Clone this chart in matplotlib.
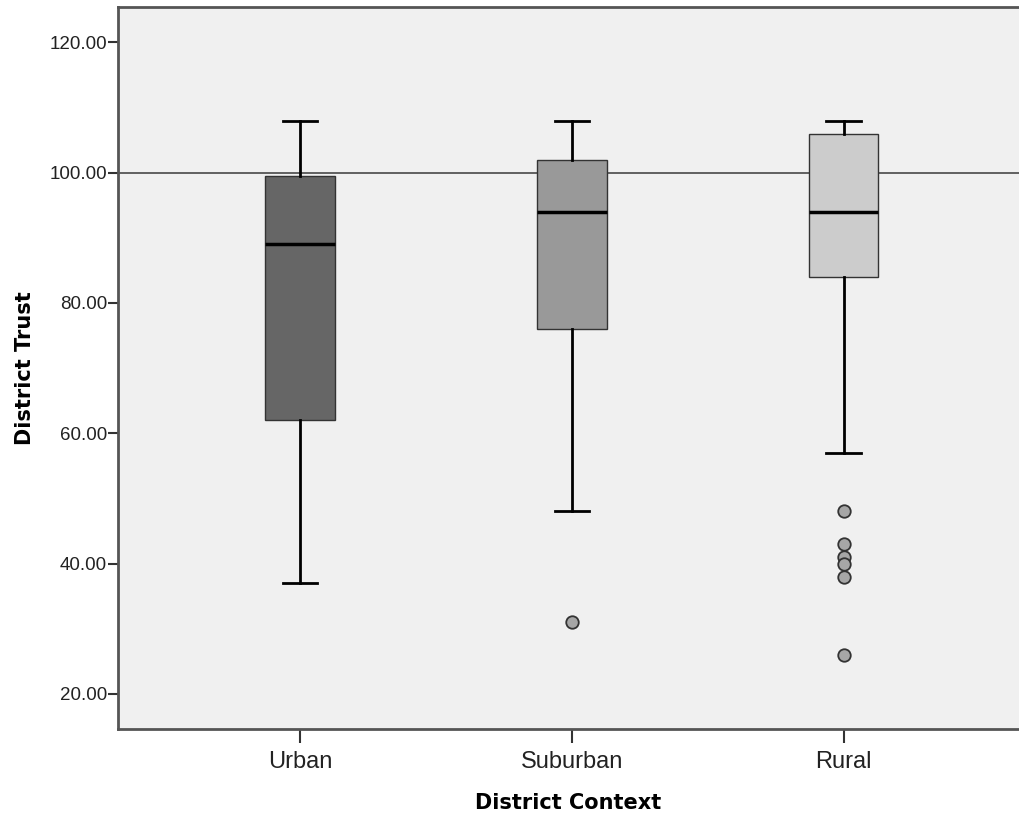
import matplotlib
matplotlib.use("Agg")
from matplotlib import pyplot as plt

categories = ["Urban", "Suburban", "Rural"]
whislo = [37.0, 48.0, 57.0]
q1 = [62.0, 76.0, 84.0]
med = [89.0, 94.0, 94.0]
q3 = [99.5, 102.0, 106.0]
whishi = [108.0, 108.0, 108.0]
fliers = [[], [31.0], [48.0, 43.0, 41.0, 40.0, 38.0, 26.0]]
box_colors = ["#666666", "#999999", "#cccccc"]
yticks = [20, 40, 60, 80, 100, 120]
ref_line = 100

stats = []
for i, name in enumerate(categories):
    stats.append({"label": name, "whislo": whislo[i], "q1": q1[i], "med": med[i],
                  "q3": q3[i], "whishi": whishi[i], "fliers": fliers[i]})

fig = plt.figure(figsize=(10.19, 8.22), dpi=100)
ax = fig.add_axes([0.1158, 0.1132, 0.8842, 0.878])
ax.set_facecolor("#f0f0f0")

ax.axhline(ref_line, color="#555555", lw=1.3, zorder=1)

bp = ax.bxp(stats, positions=range(len(categories)), widths=0.255,
            patch_artist=True, showfliers=True,
            boxprops=dict(edgecolor="#333333", linewidth=1.0),
            medianprops=dict(color="black", linewidth=2.5),
            whiskerprops=dict(color="black", linewidth=2.0),
            capprops=dict(color="black", linewidth=2.0),
            capwidths=0.127,
            flierprops=dict(marker="o", markersize=9, markerfacecolor="#a6a6a6",
                            markeredgecolor="#333333", markeredgewidth=1.3))
for patch, c in zip(bp["boxes"], box_colors):
    patch.set_facecolor(c)
    patch.set_zorder(2)

ax.set_xlim(-0.67, 2.645)
ax.set_ylim(14.6, 125.4)
ax.set_yticks(yticks)
ax.set_yticklabels([f"{v:.2f}" for v in yticks], family="Liberation Sans", fontsize=13.5, color="#222222")
ax.set_xticks(range(len(categories)))
ax.set_xticklabels(categories, family="Liberation Sans", fontsize=17, color="#222222")
ax.tick_params(axis="y", length=7, width=1.5, color="#333333", pad=1)
ax.tick_params(axis="x", length=10, width=1.5, color="#333333", pad=6)

for s in ["left", "bottom", "top"]:
    ax.spines[s].set_color("#555555")
    ax.spines[s].set_linewidth(2.0)
ax.spines["right"].set_visible(False)

ax.set_xlabel("District Context", fontsize=15, fontweight="bold", labelpad=14)
ax.set_ylabel("District Trust", fontsize=15, fontweight="bold", labelpad=10)

fig.savefig("out.png", dpi=100)
